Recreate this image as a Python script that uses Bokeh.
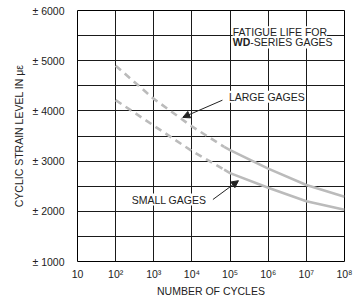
from bokeh.plotting import figure
from bokeh.models import (FixedTicker, SingleIntervalTicker, Label, Arrow, NormalHead,
                          Range1d, ColumnDataSource)
from bokeh.embed import file_html
from bokeh.resources import INLINE

# ---- data ----
cycle_ticks = [10, 1e2, 1e3, 1e4, 1e5, 1e6, 1e7, 1e8]
cycle_tick_labels = ["10", "10²", "10³", "10⁴", "10⁵", "10⁶", "10⁷", "10⁸"]
strain_ticks = [1000, 2000, 3000, 4000, 5000, 6000]
strain_tick_labels = ["± 1000", "± 2000", "± 3000", "± 4000", "± 5000", "± 6000"]

# dashed (extrapolated) part
dash_cycles = [1e2, 1e3, 1e4, 7e4]
large_dash = [4900, 4240, 3690, 3285]
small_dash = [4216, 3706, 3200, 2830]
# solid part
solid_cycles = [7e4, 1e5, 1e6, 1e7, 1e8]
large_solid = [3285, 3220, 2850, 2525, 2290]
small_solid = [2830, 2760, 2470, 2200, 2030]

FONT = "Liberation Sans"
FS = "10.5px"
CURVE = "#bbbbbb"
GRID = "#1a1a1a"
TXT = "#222222"

p = figure(width=357, height=299, x_axis_type="log",
           x_range=Range1d(10, 1e8), y_range=Range1d(1000, 6000),
           output_backend="svg", toolbar_location=None,
           min_border_left=77, min_border_right=13, min_border_top=10, min_border_bottom=37)
p.background_fill_color = "white"
p.border_fill_color = "white"
p.outline_line_color = "black"
p.outline_line_width = 1

# axes
p.xaxis.ticker = FixedTicker(ticks=cycle_ticks)
p.xaxis.major_label_overrides = {t: l for t, l in zip(cycle_ticks, cycle_tick_labels)}
p.yaxis.ticker = SingleIntervalTicker(interval=1000, num_minor_ticks=2)
p.yaxis.major_label_overrides = {t: l for t, l in zip(strain_ticks, strain_tick_labels)}
for ax in (p.xaxis[0], p.yaxis[0]):
    ax.axis_line_color = None
    ax.major_tick_line_color = None
    ax.minor_tick_line_color = None
    ax.major_label_text_font = FONT
    ax.major_label_text_font_size = FS
    ax.major_label_text_color = TXT
    ax.axis_label_text_font = FONT
    ax.axis_label_text_font_size = FS
    ax.axis_label_text_font_style = "normal"
    ax.axis_label_text_color = TXT
p.xaxis.axis_label = "NUMBER OF CYCLES"
p.yaxis.axis_label = "CYCLIC STRAIN LEVEL IN με"
p.xaxis.major_label_standoff = 0
p.yaxis.major_label_standoff = 7
p.xaxis.axis_label_standoff = 2
p.yaxis.axis_label_standoff = 4

# grid (decades vertically, every 500 horizontally)
p.xgrid.ticker = FixedTicker(ticks=cycle_ticks)
p.xgrid.grid_line_color = GRID
p.xgrid.grid_line_width = 1
p.ygrid.grid_line_color = GRID
p.ygrid.grid_line_width = 1
p.ygrid.minor_grid_line_color = GRID
p.ygrid.minor_grid_line_width = 1

# curves
dash_src = ColumnDataSource(dict(n=dash_cycles, large=large_dash, small=small_dash))
solid_src = ColumnDataSource(dict(n=solid_cycles, large=large_solid, small=small_solid))
for col in ("large", "small"):
    p.line("n", col, source=dash_src, line_color=CURVE, line_width=2.6,
           line_dash="7 5", line_cap="butt")
    p.line("n", col, source=solid_src, line_color=CURVE, line_width=2.6, line_join="round")

# annotations
def lab(x, y, text, bold=False):
    l = Label(x=x, y=y, text=text, text_font=FONT, text_font_size=FS,
              text_font_style="bold" if bold else "normal", text_color=TXT,
              text_baseline="middle", text_align="left",
              background_fill_color="white", background_fill_alpha=1.0)
    p.add_layout(l)
    return l

lab(10**5.07, 5565, "FATIGUE LIFE FOR")
lab(10**5.07, 5365, "WD", bold=True)
lab(10**5.53, 5365, "-SERIES GAGES")
lab(10**4.97, 4280, "LARGE GAGES")
lab(10**2.42, 2235, "SMALL GAGES")

head = dict(size=7, fill_color=TXT, line_color=TXT)
p.add_layout(Arrow(end=NormalHead(**head), x_start=10**4.80, y_start=4214,
                   x_end=10**3.76, y_end=3870, line_color=TXT, line_width=1))
p.add_layout(Arrow(end=NormalHead(**head), x_start=10**4.55, y_start=2235,
                   x_end=10**5.22, y_end=2610, line_color=TXT, line_width=1))

open("out.html", "w").write(file_html(p, INLINE))
